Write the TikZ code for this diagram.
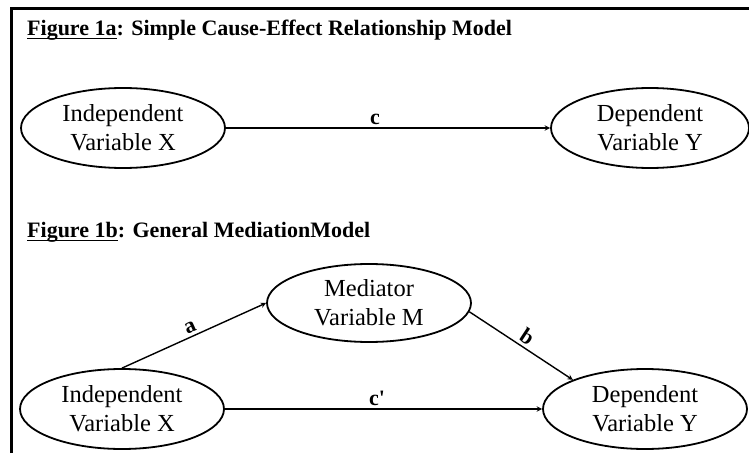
\documentclass[tikz,border=0pt]{standalone}
\usepackage{fontspec}
\setmainfont{Liberation Serif}
\usepackage{tikz}
\usetikzlibrary{arrows,shapes,positioning}
\usepackage{xcolor}
\newlength\tagwd
\newcommand{\figtag}[1]{\settowidth{\tagwd}{#1}\rlap{\rule[-3.5pt]{\tagwd}{1.4pt}}#1}
\tikzstyle{arrow} = [line width=1.4pt,->,>=stealth,color=black]
\tikzstyle{varnode} = [ellipse, minimum width=204pt, minimum height=80pt, inner sep=0pt, text centered, align=center, draw=black, line width=1.8pt, font=\fontsize{24.5}{29}\selectfont]
\tikzstyle{heading} = [anchor=base west, inner sep=0pt, font=\fontsize{22}{26}\selectfont\bfseries]
\tikzstyle{pathlabel} = [font=\fontsize{22}{26}\selectfont\bfseries, inner sep=3pt]

\begin{document}
\begin{tikzpicture}[x=1pt, y=1pt]
\useasboundingbox (0,0) rectangle (749,453);
% Frame
\draw[line width=3pt] (11,0) -- (11,444) -- (749,444);

% Figure 1a
\node (titleA) [heading] at (27,417) {\figtag{Figure 1a}: Simple Cause-Effect Relationship Model};
\node (ivA) [varnode] at (123,325) {Independent\\Variable X};
\node (dvA) [varnode, right of=ivA, node distance=527pt, minimum width=198pt] {Dependent\\Variable Y};
\draw[arrow] (ivA) -- node[pathlabel, above, pos=0.46] {c} (dvA);

% Figure 1b
\node (titleB) [heading] at (27,215) {\figtag{Figure 1b}: General MediationModel};
\node (medB) [varnode, minimum height=78pt] at (369,150) {Mediator\\Variable M};
\node (ivB) [varnode] at (122,44) {Independent\\Variable X};
\node (dvB) [varnode, right of=ivB, node distance=523pt] {Dependent\\Variable Y};
\draw[arrow] (ivB.north) -- node[pathlabel, above, sloped] {a} (medB.west);
\draw[arrow] (medB.-5) -- node[pathlabel, above, sloped] {b} (dvB.158);
\draw[arrow] (ivB) -- node[pathlabel, above, pos=0.48] {c\textquotesingle} (dvB);
\end{tikzpicture}
\end{document}
